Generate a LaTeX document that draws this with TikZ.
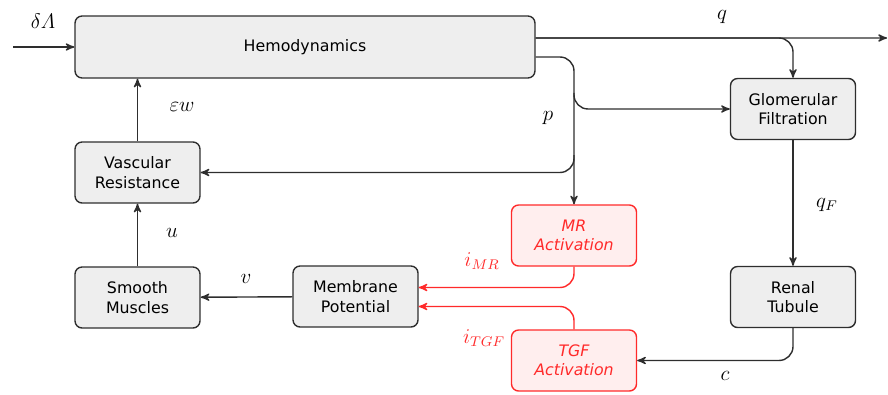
\documentclass[tikz,border=0pt]{standalone}
\usepackage{amsmath}
\usepackage{fontspec}
\setmainfont{DejaVu Sans}
\usetikzlibrary{arrows,shapes}

\definecolor{boxgray}{HTML}{EEEEEE}
\definecolor{linegray}{HTML}{2E2E2E}
\definecolor{actred}{HTML}{FF2A2A}
\definecolor{actfill}{HTML}{FFEEEE}

\begin{document}
\begin{tikzpicture}[x=0.02cm,y=-0.02cm,>=stealth']
            \tikzstyle{block}=[rectangle,rounded corners=4pt,minimum width=2.5cm,minimum height=1.22cm,
                               align=center,font=\fontsize{9}{11}\selectfont,draw=linegray,line width=0.8pt]
            \tikzstyle{var}=[font=\large]

            \tikzstyle{G}=[block,fill=boxgray]                         % physiology
            \tikzstyle{R}=[block,fill=actfill,draw=actred,text=actred,
                           font=\fontsize{9}{11}\selectfont\itshape]  % activation
            \tikzstyle{flow}=[->,line width=0.8pt,draw=linegray,rounded corners=8pt]
            \tikzstyle{sig}=[flow,draw=actred]

            \useasboundingbox (0,0) rectangle (888,395);

            \node[G,minimum width=9.2cm,minimum height=1.24cm] (hemo) at (305,47) {Hemodynamics};
            \node[G] (glom) at (793,109)   {Glomerular\\Filtration};
            \node[G] (vr)   at (137.5,172.5) {Vascular\\Resistance};
            \node[G] (sm)   at (137.5,297.5) {Smooth\\Muscles};
            \node[G] (mp)   at (355.5,296.5) {Membrane\\Potential};
            \node[G] (rt)   at (793,297)   {Renal\\Tubule};
            \node[R] (mr)   at (574,235.5) {MR\\Activation};
            \node[R] (tgf)  at (574,360.5) {TGF\\Activation};

            \coordinate (in)  at (13,47);
            \coordinate (out) at (887,38);
            \coordinate (p1)  at (574,93);
            \coordinate (p2)  at (574,155);

            \node[var] (ldl) at (43,21)  {$\delta\varLambda$};
            \node[var] (lq)  at (722,17)  {$q$};
            \node[var] (lp)  at (548,118) {$p$};
            \node[var] (lew) at (182,107) {$\varepsilon w$};
            \node[var] (lu)  at (172,233) {$u$};
            \node[var] (lv)  at (246,279) {$v$};
            \node[var] (lqf) at (827,205) {$q_F$};
            \node[var] (lc)  at (725,376) {$c$};
            \node[var,text=actred] (lmr)  at (482,261) {$i_{MR}$};
            \node[var,text=actred] (ltgf) at (484,338) {$i_{TGF}$};

            \draw[flow] (in) -- (hemo.west);
            \draw[flow] ([yshift=0.18cm]hemo.east) -- (out);
            \draw[flow] ([yshift=0.18cm]hemo.east) -| (glom.north);
            \draw[flow] ([yshift=-0.2cm]hemo.east) -| (mr.north);
            \draw[flow] (p1) |- (glom.west);
            \draw[flow] (p2) |- (vr.east);
            \draw[flow] (vr.north) -- (vr.north |- hemo.south);
            \draw[flow] (sm) -- (vr);
            \draw[flow] (mp) -- (sm);
            \draw[flow] (glom) -- (rt);
            \draw[flow] (rt.south) |- (tgf.east);

            \draw[sig] (mr.south) |- ([yshift=0.18cm]mp.east);
            \draw[sig] (tgf.north) |- ([yshift=-0.2cm]mp.east);
        \end{tikzpicture}
\end{document}
